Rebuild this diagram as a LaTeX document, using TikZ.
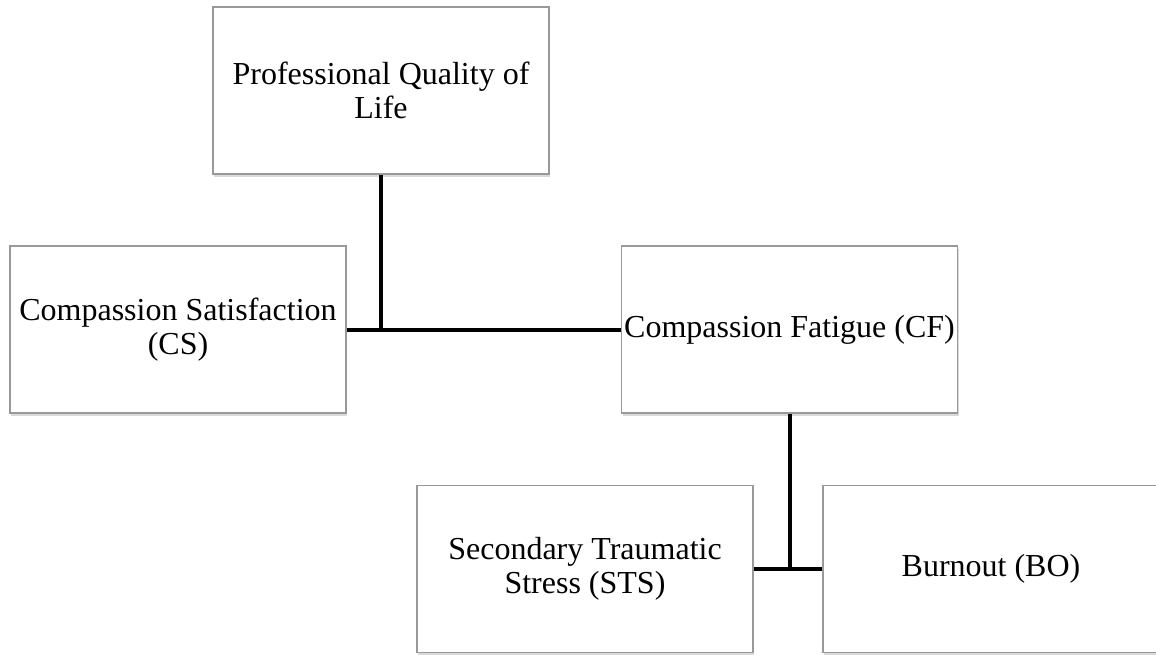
\documentclass[tikz,border=0pt]{standalone}
\usepackage{fontspec}
\setmainfont{Liberation Serif}
\usetikzlibrary{calc,positioning,shadows}
\tikzset{
    scalebox/.style={
        rectangle,
        draw=black!40, line width=1.5pt,
        fill=white,
        drop shadow={shadow xshift=1pt, shadow yshift=-3pt, opacity=0.3},
        minimum width=336pt,
        minimum height=167pt,
        inner sep=2pt,
        align=center,
        font={\fontsize{32pt}{34pt}\selectfont}
    },
    link/.style={draw, line width=4pt},
}
\begin{document}
\begin{tikzpicture}[x=1pt, y=-1pt]

\useasboundingbox (0,0) rectangle (1156,654);

% top level
\node [scalebox] (pql) at (381,90.5) {Professional Quality of\\Life};

% subscales
\node [scalebox] (cs) at (178,329.5) {Compassion Satisfaction\\(CS)};
\node [scalebox] (cf) at (789.5,329.5) {Compassion Fatigue (CF)};

% parts of CF
\node [scalebox] (sts) at (585,569) {Secondary Traumatic\\Stress (STS)};
\node [scalebox] (bo) at (991,569) {Burnout (BO)};

% connectors
\draw [link] (pql.south) -- (pql.south |- cs.east);
\draw [link] (cs.east) -- (cf.west);
\draw [link] (cf.south) -- (cf.south |- sts.east);
\draw [link] (sts.east) -- (bo.west);

\end{tikzpicture}
\end{document}
